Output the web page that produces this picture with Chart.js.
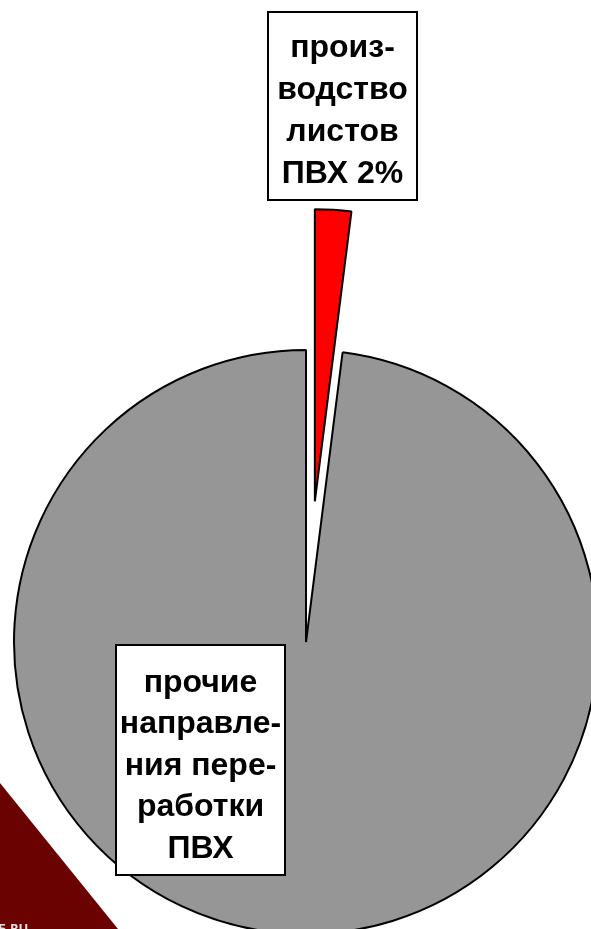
<!DOCTYPE html>
<html lang="ru">
<head>
    <meta charset="UTF-8">
    <title>ПВХ</title>
    <script src="https://cdn.jsdelivr.net/npm/chart.js"></script>
    <style>
        body { margin: 0; background: #ffffff; }
        #wrap { position: relative; width: 591px; height: 929px; }
    </style>
</head>
<body>
    <div id="wrap"><canvas id="pvhChart"></canvas></div>
    <script>
        // данные
        const categories = ['производство листов ПВХ', 'прочие направления переработки ПВХ'];
        const shares = [2, 98];
        const sliceColors = ['#ff0000', '#969696'];
        const explode = [141, 0]; // вынос сектора, px

        // подписи в рамках
        const topLabel = ['произ-', 'водство', 'листов', 'ПВХ 2%'];
        const bottomLabel = ['прочие', 'направле-', 'ния пере-', 'работки', 'ПВХ'];

        // фон: тёмно-красный угол внизу слева
        const cornerPlugin = {
            id: 'corner',
            beforeDraw(chart) {
                const ctx = chart.ctx;
                ctx.save();
                ctx.fillStyle = '#ffffff';
                ctx.fillRect(0, 0, chart.width, chart.height);
                ctx.fillStyle = '#6b0202';
                ctx.beginPath();
                ctx.moveTo(0, 783);
                ctx.lineTo(118, chart.height);
                ctx.lineTo(0, chart.height);
                ctx.closePath();
                ctx.fill();
                ctx.fillStyle = '#e8e0e0';
                ctx.font = 'bold 13px "Open Sans"';
                ctx.textBaseline = 'top';
                ctx.fillText('Б.RU', -2, 923);
                ctx.restore();
            }
        };

        // вынос сектора вдоль биссектрисы (без увеличения радиуса)
        const explodePlugin = {
            id: 'explode',
            afterUpdate(chart) {
                chart.getDatasetMeta(0).data.forEach((arc, i) => {
                    const d = explode[i] || 0;
                    const mid = (arc.startAngle + arc.endAngle) / 2;
                    arc.x += Math.cos(mid) * d;
                    arc.y += Math.sin(mid) * d;
                });
            }
        };

        function drawBox(ctx, lines, box, lineH, firstY) {
            ctx.fillStyle = '#ffffff';
            ctx.fillRect(box.x, box.y, box.w, box.h);
            ctx.strokeStyle = '#000000';
            ctx.lineWidth = 2;
            ctx.strokeRect(box.x, box.y, box.w, box.h);
            ctx.fillStyle = '#000000';
            ctx.font = 'bold 32px "Liberation Sans", Arial, sans-serif';
            ctx.textAlign = 'center';
            ctx.textBaseline = 'middle';
            lines.forEach((t, i) => ctx.fillText(t, box.x + box.w / 2, firstY + i * lineH));
        }

        const labelPlugin = {
            id: 'boxLabels',
            afterDatasetsDraw(chart) {
                const ctx = chart.ctx;
                ctx.save();
                drawBox(ctx, topLabel, { x: 268, y: 12, w: 149, h: 188 }, 42, 48);
                drawBox(ctx, bottomLabel, { x: 116, y: 645, w: 169, h: 230 }, 41.5, 683);
                ctx.restore();
            }
        };

        new Chart(document.getElementById('pvhChart'), {
            type: 'pie',
            data: {
                labels: categories,
                datasets: [{
                    data: shares,
                    backgroundColor: sliceColors,
                    borderColor: '#000000',
                    borderWidth: 2,
                    clip: false
                }]
            },
            options: {
                responsive: true,
                maintainAspectRatio: false,
                animation: false,
                radius: 292,
                layout: { padding: { left: 21, right: 0, top: 355, bottom: 0 } },
                plugins: {
                    legend: { display: false },
                    tooltip: { enabled: false }
                }
            },
            plugins: [cornerPlugin, explodePlugin, labelPlugin]
        });
    </script>
</body>
</html>
